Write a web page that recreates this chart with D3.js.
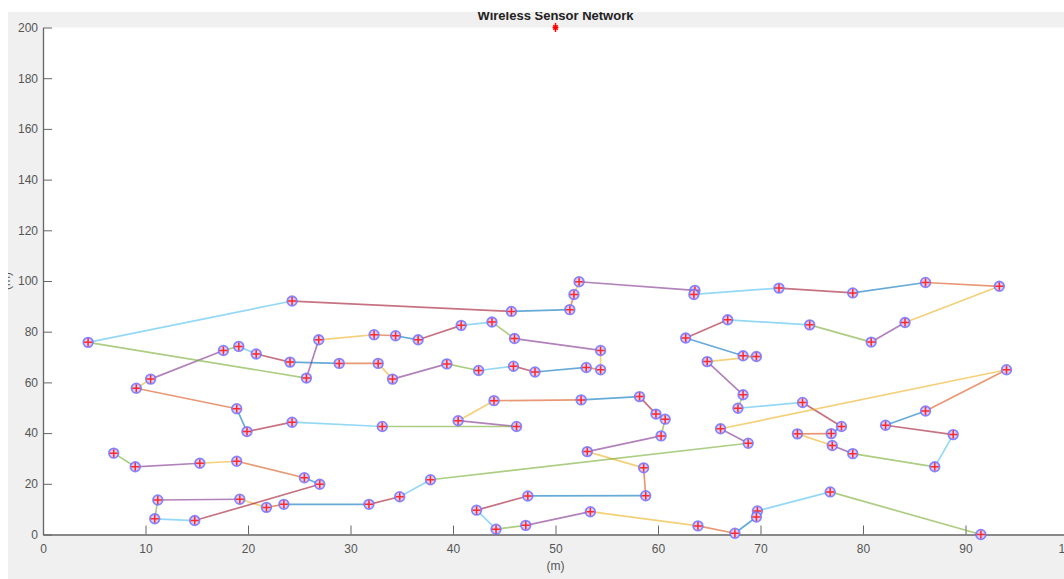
<!DOCTYPE html>
<html>
<head>
<meta charset="utf-8">
<script src="https://cdn.jsdelivr.net/npm/d3@7"></script>
<style>
  body { margin: 0; background: #fff; }
  text { font-family: "Liberation Sans", Arial, sans-serif; }
</style>
</head>
<body>
<div id="wsn"></div>
<script>
// node positions in chain order (m)
var nodeX = [91.5, 76.8, 69.7, 69.6, 67.5, 63.9, 53.4, 47.1, 44.2, 42.3,
             47.3, 58.8, 58.6, 53.1, 60.3, 60.7, 59.8, 58.2, 52.5, 44.0,
             40.5, 46.2, 33.1, 24.3, 19.9, 18.9, 9.1, 10.5, 17.6, 19.1,
             20.8, 24.1, 28.9, 32.7, 34.1, 39.4, 42.5, 45.9, 48.0, 53.0,
             54.4, 54.4, 46.0, 43.8, 40.8, 36.6, 34.4, 32.3, 26.9, 25.7,
             4.4, 24.3, 45.7, 51.4, 51.8, 52.3, 63.6, 63.5, 71.8, 79.0,
             86.1, 93.3, 84.1, 80.8, 74.8, 66.8, 62.7, 68.3, 69.6, 64.8,
             68.3, 67.8, 74.1, 77.9, 76.9, 73.6, 77.0, 79.0, 87.0, 88.8,
             82.2, 86.1, 94.0, 66.1, 68.8, 37.8, 34.8, 31.8, 23.5, 21.8,
             19.2, 11.2, 10.9, 14.8, 27.0, 25.5, 18.9, 15.3, 9.0, 6.9];
var nodeY = [0.0, 16.8, 9.3, 6.9, 0.5, 3.4, 9.0, 3.6, 2.1, 9.6,
             15.2, 15.3, 26.3, 32.7, 38.9, 45.5, 47.5, 54.4, 53.1, 52.8,
             44.9, 42.6, 42.6, 44.3, 40.6, 49.6, 57.7, 61.3, 72.6, 74.2,
             71.2, 68.0, 67.5, 67.5, 61.3, 67.3, 64.7, 66.4, 64.1, 65.9,
             65.0, 72.6, 77.3, 83.8, 82.5, 76.8, 78.4, 78.8, 76.8, 61.7,
             75.8, 92.1, 88.0, 88.7, 94.7, 99.7, 96.3, 94.7, 97.2, 95.3,
             99.4, 97.9, 83.6, 75.9, 82.7, 84.7, 77.5, 70.5, 70.2, 68.2,
             55.1, 49.8, 52.1, 42.6, 39.8, 39.7, 35.1, 31.9, 26.7, 39.4,
             43.1, 48.7, 65.0, 41.7, 36.0, 21.6, 14.9, 11.9, 11.9, 10.7,
             13.9, 13.6, 6.2, 5.5, 19.8, 22.4, 28.9, 28.1, 26.7, 32.1];
var sink = [50, 200];
var xTicks = [0, 10, 20, 30, 40, 50, 60, 70, 80, 90, 100];
var yTicks = [0, 20, 40, 60, 80, 100, 120, 140, 160, 180, 200];
var lineColors = ["#0072BD", "#D95319", "#EDB120", "#7E2F8E", "#77AC30", "#4DBEEE", "#A2142F"];

var width = 1064, height = 579;

var svg = d3.select("#wsn").append("svg")
  .attr("width", width)
  .attr("height", height);

// figure background
svg.append("rect").attr("x", 8).attr("y", 12)
  .attr("width", width - 8).attr("height", height - 12)
  .attr("fill", "#f0f0f0");

var x = d3.scaleLinear().domain([0, 100]).range([43, 1068]);
var y = d3.scaleLinear().domain([0, 200]).range([534.5, 27.5]);

svg.append("rect")
  .attr("x", x(0)).attr("y", y(200))
  .attr("width", width - x(0)).attr("height", y(0) - y(200))
  .attr("fill", "#fff");

// axes
var xAxis = svg.append("g")
  .attr("transform", "translate(0," + y(0) + ")")
  .call(d3.axisBottom(x).tickValues(xTicks).tickSizeInner(-9).tickSizeOuter(0).tickPadding(7));
var yAxis = svg.append("g")
  .attr("transform", "translate(" + x(0) + ",0)")
  .call(d3.axisLeft(y).tickValues(yTicks).tickSizeInner(-9).tickSizeOuter(0).tickPadding(5));

[xAxis, yAxis].forEach(function (g) {
  g.select(".domain").attr("stroke", "#666").attr("stroke-width", 1.3);
  g.selectAll(".tick line").attr("stroke", "#666");
  g.selectAll(".tick text").attr("fill", "#555").style("font-size", "12px");
});
xAxis.selectAll(".tick text").attr("dy", "0.95em");

// chain segments, colour order continues from the 5th default colour
var nodes = nodeX.map(function (d, i) { return [d, nodeY[i]]; });
var segs = d3.pairs(nodes);

svg.append("g").selectAll("line")
  .data(segs)
  .enter().append("line")
  .attr("x1", function (d) { return x(d[0][0]); })
  .attr("y1", function (d) { return y(d[0][1]); })
  .attr("x2", function (d) { return x(d[1][0]); })
  .attr("y2", function (d) { return y(d[1][1]); })
  .attr("stroke", function (d, i) { return lineColors[(i + 4) % 7]; })
  .attr("stroke-opacity", 0.6)
  .attr("stroke-width", 1.7);

// sensor nodes: blue circle + red plus
var node = svg.append("g").selectAll("g")
  .data(nodes)
  .enter().append("g")
  .attr("transform", function (d) { return "translate(" + x(d[0]) + "," + y(d[1]) + ")"; });

node.append("circle")
  .attr("r", 4.8)
  .attr("fill", "#d9ccf5")
  .attr("stroke", "#6a6aff")
  .attr("stroke-opacity", 0.8)
  .attr("stroke-width", 1.8);

node.append("path")
  .attr("d", "M-4,0H4M0,-4V4")
  .attr("stroke", "#ff2a2a")
  .attr("stroke-width", 1.5);

// base station
svg.append("path")
  .attr("transform", "translate(" + x(sink[0]) + "," + y(sink[1]) + ")")
  .attr("d", "M-3,0H3M0,-4.5V4.5M-2.2,-2.2L2.2,2.2M-2.2,2.2L2.2,-2.2")
  .attr("stroke", "#ff0000")
  .attr("stroke-width", 1.5);

// labels
svg.append("text")
  .attr("x", x(50)).attr("y", 570)
  .attr("text-anchor", "middle")
  .attr("fill", "#555")
  .style("font-size", "12px")
  .text("(m)");

svg.append("text")
  .attr("transform", "translate(10," + y(100) + ") rotate(-90)")
  .attr("text-anchor", "middle")
  .attr("fill", "#555")
  .style("font-size", "12px")
  .text("(m)");

svg.append("text")
  .attr("x", x(50)).attr("y", 19.5)
  .attr("text-anchor", "middle")
  .attr("fill", "#222")
  .style("font-size", "13px")
  .style("font-weight", "bold")
  .text("Wireless Sensor Network");

// white margin of the screenshot crops the title and y label
svg.append("rect").attr("x", 0).attr("y", 0).attr("width", width).attr("height", 12).attr("fill", "#fff");
svg.append("rect").attr("x", 0).attr("y", 0).attr("width", 8).attr("height", height).attr("fill", "#fff");
</script>
</body>
</html>
